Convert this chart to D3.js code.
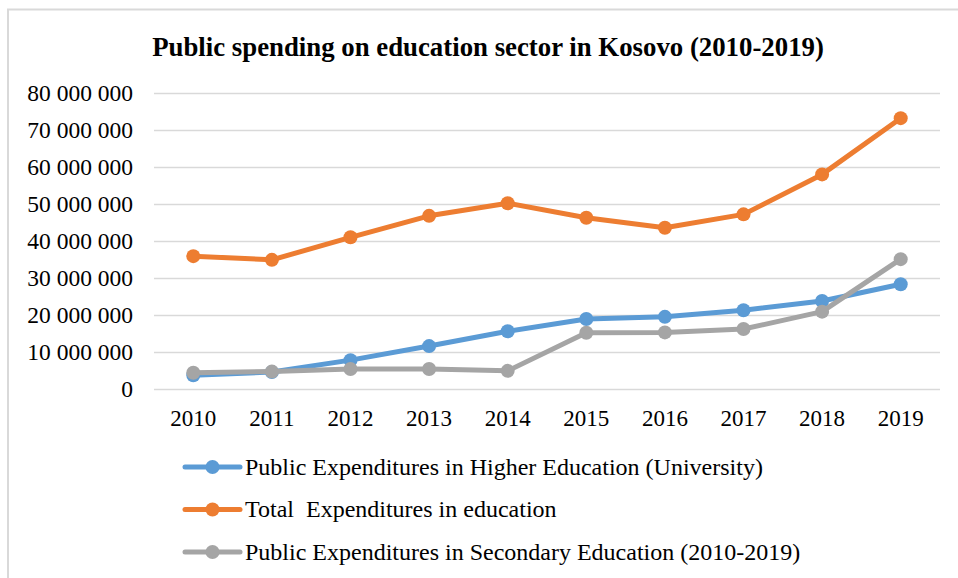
<!DOCTYPE html>
<html>
<head>
<meta charset="utf-8">
<script src="https://cdn.jsdelivr.net/npm/d3@7"></script>
<style>
    body { margin: 0; background: #fff; }
    #chart text { font-family: "Liberation Serif", "Times New Roman", serif; fill: #000; }
</style>
</head>
<body>
<div id="chart"></div>
<script>
// Dados
const years = ['2010', '2011', '2012', '2013', '2014', '2015', '2016', '2017', '2018', '2019'];
const higherEdu = [3700000, 4600000, 7800000, 11600000, 15600000, 18900000, 19500000, 21300000, 23800000, 28300000];
const totalEdu = [35900000, 34900000, 41000000, 46800000, 50200000, 46300000, 43600000, 47200000, 58000000, 73200000];
const secondaryEdu = [4400000, 4700000, 5400000, 5400000, 4900000, 15200000, 15300000, 16200000, 20900000, 35100000];
const yTicks = [0, 10000000, 20000000, 30000000, 40000000, 50000000, 60000000, 70000000, 80000000];

const series = [
    { name: 'Public Expenditures in Higher Education (University)', values: higherEdu, color: '#5B9BD5' },
    { name: 'Total  Expenditures in education', values: totalEdu, color: '#ED7D31' },
    { name: 'Public Expenditures in Secondary Education (2010-2019)', values: secondaryEdu, color: '#A5A5A5' }
];

const W = 958, H = 578;
const margin = {top: 93, right: 18, bottom: 189, left: 154};
const width = W - margin.left - margin.right;
const height = H - margin.top - margin.bottom;

const root = d3.select('#chart').append('svg')
    .attr('width', W)
    .attr('height', H);

// Moldura
root.append('rect')
    .attr('x', 8)
    .attr('y', 9.5)
    .attr('width', W)
    .attr('height', H)
    .attr('fill', 'none')
    .attr('stroke', '#d9d9d9')
    .attr('stroke-width', 2);

// Título
root.append('text')
    .attr('x', 488)
    .attr('y', 56)
    .style('text-anchor', 'middle')
    .style('font-weight', 'bold')
    .style('font-size', '26.8px')
    .text('Public spending on education sector in Kosovo (2010-2019)');

const svg = root.append('g')
    .attr('transform', `translate(${margin.left},${margin.top})`);

// Escalas
const x = d3.scaleBand()
    .domain(years)
    .range([0, width]);

const y = d3.scaleLinear()
    .domain([0, 80000000])
    .range([height, 0]);

const fmt = d => d3.format(',')(d).replace(/,/g, ' ');

// Grade
svg.append('g')
    .call(d3.axisLeft(y).tickValues(yTicks).tickSize(-width).tickFormat(''))
    .call(g => g.select('.domain').remove())
    .call(g => g.selectAll('line').attr('stroke', '#d9d9d9').attr('stroke-width', 1.5));

// Eixos
svg.append('g')
    .attr('transform', `translate(0,${height})`)
    .call(d3.axisBottom(x).tickSize(0).tickPadding(21))
    .call(g => g.select('.domain').remove())
    .call(g => g.selectAll('text').style('font-size', '23px'));

svg.append('g')
    .call(d3.axisLeft(y).tickValues(yTicks).tickSize(0).tickPadding(21).tickFormat(fmt))
    .call(g => g.select('.domain').remove())
    .call(g => g.selectAll('text').style('font-size', '23.5px'));

// Linhas
const line = d3.line()
    .x((d, i) => x(years[i]) + x.bandwidth() / 2)
    .y(d => y(d));

series.forEach(s => {
    svg.append('path')
        .datum(s.values)
        .attr('fill', 'none')
        .attr('stroke', s.color)
        .attr('stroke-width', 5)
        .attr('stroke-linejoin', 'round')
        .attr('d', line);

    svg.selectAll(null)
        .data(s.values)
        .enter().append('circle')
        .attr('cx', (d, i) => x(years[i]) + x.bandwidth() / 2)
        .attr('cy', d => y(d))
        .attr('r', 7)
        .attr('fill', s.color);
});

// Legenda
const legend = root.append('g')
    .attr('transform', 'translate(185, 467)');

series.forEach((s, i) => {
    const lg = legend.append('g')
        .attr('transform', `translate(0, ${i * 42.5})`);

    lg.append('line')
        .attr('x1', 0)
        .attr('x2', 55)
        .attr('stroke', s.color)
        .attr('stroke-width', 5)
        .attr('stroke-linecap', 'round');

    lg.append('circle')
        .attr('cx', 27.5)
        .attr('r', 7)
        .attr('fill', s.color);

    lg.append('text')
        .attr('x', 60)
        .attr('dy', '.32em')
        .style('font-size', '24px')
        .style('white-space', 'pre')
        .text(s.name);
});
</script>
</body>
</html>
